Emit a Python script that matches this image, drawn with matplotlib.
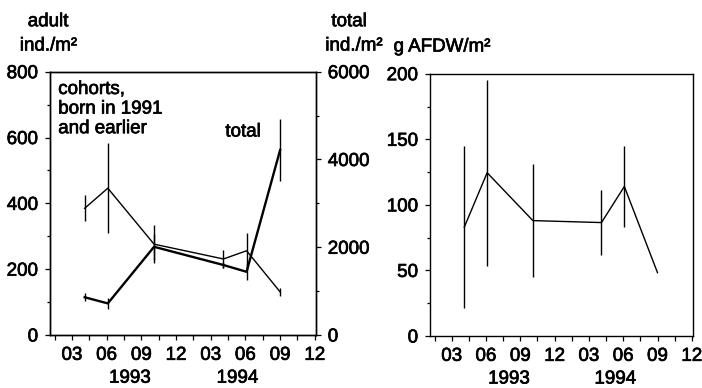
import numpy as np
import matplotlib.pyplot as plt
import matplotlib.text as mtext
import matplotlib.patheffects as pe
from matplotlib.ticker import FixedLocator, MultipleLocator

plt.rcParams['font.family'] = ['Liberation Sans', 'DejaVu Sans']
fs = 13.5

# sampling dates, months since Jan 1993 = 1
months = [4.1, 6.1, 10.1, 16.1, 18.1, 21.0]

# adult cohorts born in 1991 and earlier (ind./m2, left axis)
adult = [385, 446, 276, 231, 256, 131]
adult_err = [39, 136, 57, 27, 55, 12]

# total (ind./m2, right axis)
total = [860, 720, 2010, 1595, 1440, 4215]
total_err = [90, 128, 300, 60, 190, 700]

# biomass (g AFDW/m2)
afdw = [83, 124.5, 88, 86.5, 114, 48.3]
afdw_err = [62, 71, 43, 25, 31, 0]

tick_pos = [3, 6, 9, 12, 15, 18, 21, 24]
tick_lab = ['03', '06', '09', '12', '03', '06', '09', '12']
years = ['1993', '1994']
year_pos = [8.0, 17.3]

fig = plt.figure(figsize=(7.02, 3.88), dpi=100)
ax1 = fig.add_axes([0.0712, 0.1366, 0.3789, 0.6786])
ax1b = ax1.twinx()
ax2 = fig.add_axes([0.6125, 0.134, 0.3746, 0.676])


def style_x(ax):
    ax.set_xlim(1.1, 24.1)
    ax.xaxis.set_major_locator(FixedLocator(tick_pos))
    ax.set_xticklabels(tick_lab)
    ax.xaxis.set_minor_locator(FixedLocator(np.arange(1.5, 24, 3)))
    ax.tick_params(axis='x', which='both', direction='out', length=3.5,
                   width=0.9, pad=5, labelsize=fs)
    for yl, xp in zip(years, year_pos):
        ax.text(xp, -0.164, yl, transform=ax.get_xaxis_transform(),
                ha='center', va='center', fontsize=fs)


def style_y(ax):
    ax.tick_params(axis='y', which='major', direction='out', length=3.5,
                   width=0.9, pad=5, labelsize=fs)
    ax.tick_params(axis='y', which='minor', direction='out', length=2.5, width=0.9)


for a in (ax1, ax1b, ax2):
    for s in a.spines.values():
        s.set_linewidth(1.0)

# left panel
ax1.errorbar(months, adult, yerr=adult_err, color='black', lw=1.0,
             elinewidth=1.0, capsize=0)
ax1.set_ylim(0, 800)
ax1.yaxis.set_major_locator(MultipleLocator(200))
ax1.yaxis.set_minor_locator(MultipleLocator(100))
style_y(ax1)
style_x(ax1)

ax1b.errorbar(months, total, yerr=total_err, color='black', lw=1.7,
              elinewidth=1.0, capsize=0)
ax1b.set_ylim(0, 6000)
ax1b.yaxis.set_major_locator(MultipleLocator(2000))
ax1b.yaxis.set_minor_locator(MultipleLocator(1000))
style_y(ax1b)

ax1.text(0.031, 0.858, 'cohorts,\nborn in 1991\nand earlier', transform=ax1.transAxes,
         ha='left', va='center', fontsize=fs, linespacing=1.2)
ax1.text(0.7256, 0.771, 'total', transform=ax1.transAxes,
         ha='center', va='center', fontsize=fs)

fig.text(48 / 702, 1 - 21.7 / 388, 'adult', ha='center', va='center', fontsize=fs)
fig.text(48.5 / 702, 1 - 46 / 388, 'ind./m²', ha='center', va='center', fontsize=fs)
fig.text(349 / 702, 1 - 21.7 / 388, 'total', ha='center', va='center', fontsize=fs)
fig.text(354 / 702, 1 - 46 / 388, 'ind./m²', ha='center', va='center', fontsize=fs)

# right panel
ax2.errorbar(months, afdw, yerr=afdw_err, color='black', lw=1.0,
             elinewidth=1.0, capsize=0)
ax2.set_ylim(0, 200)
ax2.yaxis.set_major_locator(MultipleLocator(50))
ax2.yaxis.set_minor_locator(MultipleLocator(25))
style_y(ax2)
style_x(ax2)
fig.text(442 / 702, 1 - 47 / 388, 'g AFDW/m²', ha='center', va='center', fontsize=fs)

# scanned print looks a bit heavier
for t in fig.findobj(mtext.Text):
    t.set_path_effects([pe.withStroke(linewidth=0.5, foreground='black')])

fig.savefig('out.png', dpi=100)
